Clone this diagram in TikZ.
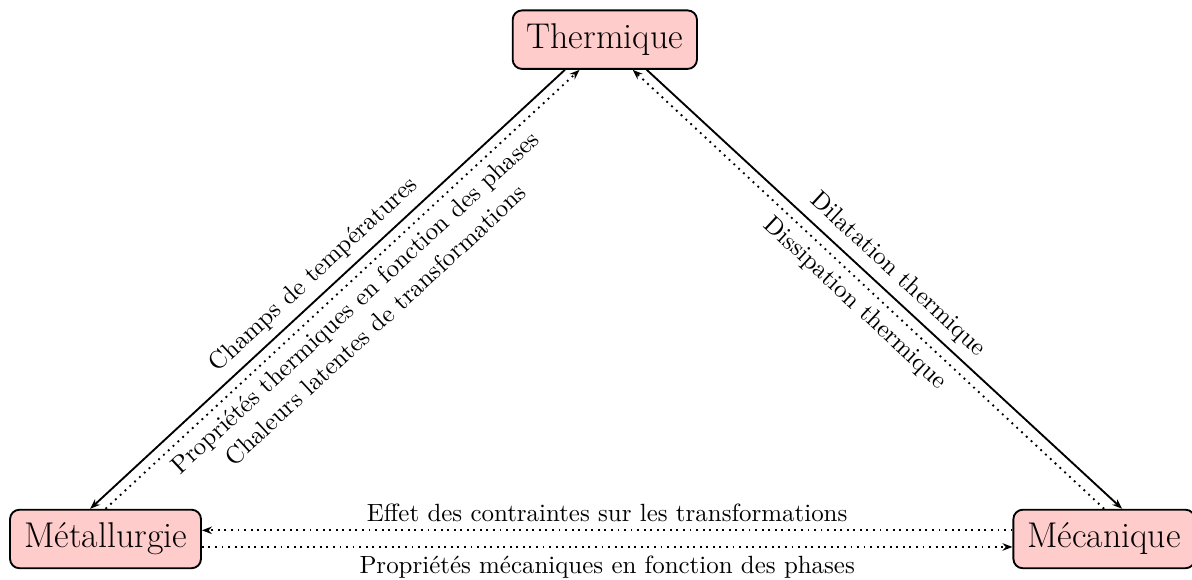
\documentclass[tikz,border=0pt]{standalone}
\usepackage{tikz}
\usetikzlibrary{arrows.meta}

\begin{document}
\begin{tikzpicture}[
      box/.style={rectangle, rounded corners=4pt, draw=black, thick, inner xsep=6pt,
                  fill=red!20, font=\fontsize{15.3}{18}\selectfont, minimum height=25pt},
      lbl/.style={font=\fontsize{10.65}{13}\selectfont},
      arrow/.style={-{Stealth[length=1.5mm]}, thick},
      dotarrow/.style={-{Stealth[length=1.5mm]}, thick, dotted}
    ]
    \useasboundingbox (-1.585,-0.616) rectangle (16.32,8.096);
    \node[box] (met) at (0,0) {Métallurgie};
    \node[box] (mec) at (15,0) {Mécanique};
    \node[box] (therm) at (7.5,7.5) {Thermique};

    % Thermique / Metallurgie
    \draw[arrow] ([xshift=-0.6cm]therm.south) -- node[lbl, sloped, above]{Champs de températures} ([xshift=-0.23cm]met.north);
    \draw[dotarrow] (met.north) -- node[lbl, sloped, below, align=center]{Propriétés thermiques en fonction des phases\\Chaleurs latentes de transformations} ([xshift=-0.38cm]therm.south);

    % Thermique / Mecanique
    \draw[arrow] ([xshift=0.63cm]therm.south) -- node[lbl, sloped, above]{Dilatation thermique} ([xshift=0.27cm]mec.north);
    \draw[dotarrow] (mec.north) -- node[lbl, sloped, below]{Dissipation thermique} ([xshift=0.42cm]therm.south);

    % Mecanique / Metallurgie
    \draw[dotarrow] ([yshift=0.13cm]mec.west) -- node[lbl, above]{Effet des contraintes sur les transformations} ([yshift=0.13cm]met.east);
    \draw[dotarrow] ([yshift=-0.12cm]met.east) -- node[lbl, below]{Propriétés mécaniques en fonction des phases} ([yshift=-0.12cm]mec.west);
  \end{tikzpicture}
\end{document}
